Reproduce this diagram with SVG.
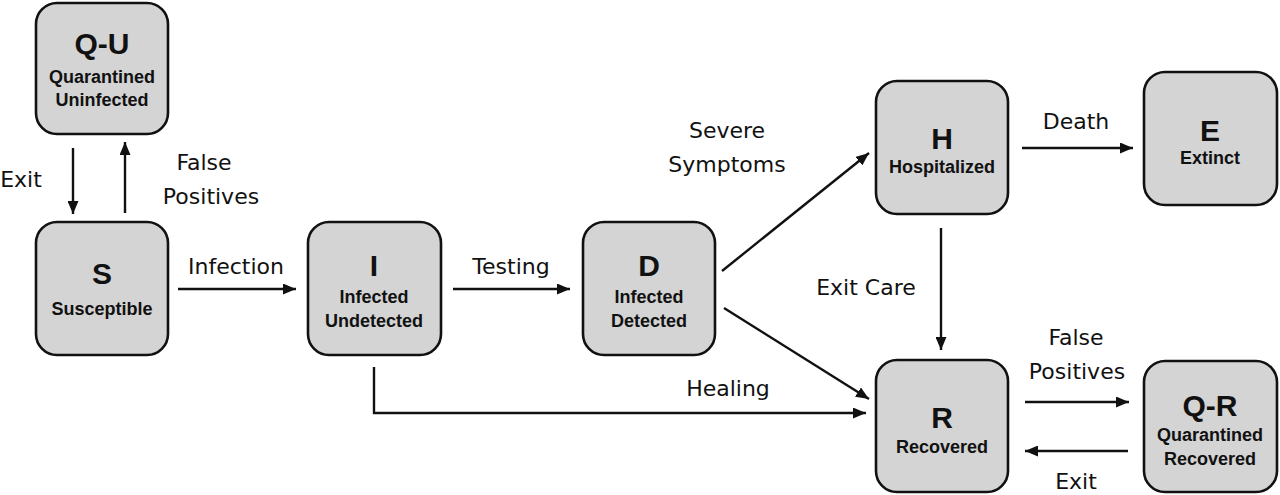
<svg xmlns="http://www.w3.org/2000/svg" width="1280" height="495" viewBox="0 0 1280 495">
<style>
.box{fill:#d4d4d4;stroke:#111;stroke-width:2.6}
.big{font-family:"Liberation Sans",Arial,sans-serif;font-weight:bold;font-size:30px;fill:#111;text-anchor:middle}
.sub{font-family:"Liberation Sans",Arial,sans-serif;font-weight:bold;font-size:18px;fill:#111;text-anchor:middle}
.lbl{font-family:"DejaVu Sans","Liberation Sans",sans-serif;font-size:22px;fill:#111;text-anchor:middle}
.ln{fill:none;stroke:#111;stroke-width:2.4}
</style>
<defs>
<marker id="ah" viewBox="0 0 13 11" refX="13" refY="5.5" markerWidth="13" markerHeight="11" markerUnits="userSpaceOnUse" orient="auto">
<path d="M0,0 L13,5.5 L0,11 Z" fill="#111"/>
</marker>
</defs>
<rect width="1280" height="495" fill="#fff"/>
<g id="connectors">
<line class="ln" x1="73" y1="148" x2="73" y2="214" marker-end="url(#ah)"/>
<line class="ln" x1="125" y1="213" x2="125" y2="142" marker-end="url(#ah)"/>
<line class="ln" x1="178" y1="289" x2="296" y2="289" marker-end="url(#ah)"/>
<line class="ln" x1="453" y1="289" x2="570" y2="289" marker-end="url(#ah)"/>
<line class="ln" x1="722" y1="271" x2="869" y2="153" marker-end="url(#ah)"/>
<line class="ln" x1="724" y1="308" x2="869" y2="399" marker-end="url(#ah)"/>
<polyline class="ln" points="374,367 374,413 866,413" marker-end="url(#ah)"/>
<line class="ln" x1="1022" y1="148" x2="1133" y2="148" marker-end="url(#ah)"/>
<line class="ln" x1="941" y1="228" x2="941" y2="350" marker-end="url(#ah)"/>
<line class="ln" x1="1025" y1="402" x2="1129" y2="402" marker-end="url(#ah)"/>
<line class="ln" x1="1128" y1="451" x2="1025" y2="451" marker-end="url(#ah)"/>
<text class="lbl" x="21" y="187">Exit</text>
<text class="lbl" x="204" y="170">False</text>
<text class="lbl" x="211" y="204">Positives</text>
<text class="lbl" x="236" y="274">Infection</text>
<text class="lbl" x="511" y="274">Testing</text>
<text class="lbl" x="727" y="138">Severe</text>
<text class="lbl" x="727" y="172">Symptoms</text>
<text class="lbl" x="1076" y="129">Death</text>
<text class="lbl" x="866" y="295">Exit Care</text>
<text class="lbl" x="728" y="396">Healing</text>
<text class="lbl" x="1076" y="345">False</text>
<text class="lbl" x="1077" y="379">Positives</text>
<text class="lbl" x="1076" y="489">Exit</text>
</g>
<g id="QU"><rect class="box" x="36" y="3" width="132" height="131" rx="21"/><text class="big" x="102" y="54">Q-U</text><text class="sub" x="102" y="83">Quarantined</text><text class="sub" x="102" y="106">Uninfected</text></g>
<g id="S"><rect class="box" x="36" y="222" width="132" height="133" rx="21"/><text class="big" x="102" y="284">S</text><text class="sub" x="102" y="315">Susceptible</text></g>
<g id="I"><rect class="box" x="308" y="222" width="133" height="133" rx="21"/><text class="big" x="374" y="276">I</text><text class="sub" x="374" y="303">Infected</text><text class="sub" x="374" y="327">Undetected</text></g>
<g id="D"><rect class="box" x="583" y="222" width="132" height="133" rx="21"/><text class="big" x="649" y="276">D</text><text class="sub" x="649" y="303">Infected</text><text class="sub" x="649" y="327">Detected</text></g>
<g id="H"><rect class="box" x="876" y="81" width="132" height="133" rx="21"/><text class="big" x="942" y="149">H</text><text class="sub" x="942" y="173">Hospitalized</text></g>
<g id="E"><rect class="box" x="1144" y="72" width="133" height="133" rx="21"/><text class="big" x="1210" y="141">E</text><text class="sub" x="1210" y="164">Extinct</text></g>
<g id="R"><rect class="box" x="876" y="360" width="132" height="132" rx="21"/><text class="big" x="942" y="428">R</text><text class="sub" x="942" y="453">Recovered</text></g>
<g id="QR"><rect class="box" x="1144" y="361" width="133" height="131" rx="21"/><text class="big" x="1210" y="416">Q-R</text><text class="sub" x="1210" y="441">Quarantined</text><text class="sub" x="1210" y="465">Recovered</text></g>
</svg>
